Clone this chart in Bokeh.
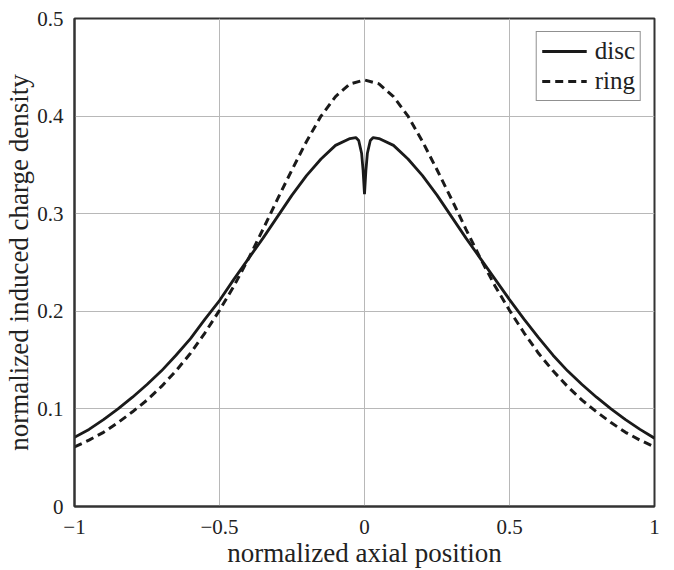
from bokeh.plotting import figure
from bokeh.models import Range1d, FixedTicker, Legend, LegendItem
from bokeh.embed import file_html
from bokeh.resources import INLINE

# ---- data ----
disc_x = [-1.0, -0.95, -0.9, -0.85, -0.8, -0.75, -0.7, -0.65, -0.6, -0.55, -0.5,
          -0.45, -0.4, -0.35, -0.3, -0.25, -0.2, -0.15, -0.1, -0.05, -0.03, -0.02,
          -0.01, -0.005, 0.0, 0.005, 0.01, 0.02, 0.03, 0.05, 0.1, 0.15, 0.2, 0.25,
          0.3, 0.35, 0.4, 0.45, 0.5, 0.55, 0.6, 0.65, 0.7, 0.75, 0.8, 0.85, 0.9,
          0.95, 1.0]
disc_y = [0.071, 0.079, 0.089, 0.100, 0.112, 0.125, 0.139, 0.155, 0.172, 0.192, 0.211,
          0.233, 0.254, 0.275, 0.297, 0.319, 0.339, 0.356, 0.370, 0.377, 0.378, 0.375,
          0.362, 0.345, 0.320, 0.345, 0.362, 0.375, 0.378, 0.377, 0.370, 0.356, 0.339, 0.319,
          0.297, 0.275, 0.254, 0.233, 0.212, 0.192, 0.173, 0.155, 0.139, 0.125, 0.112, 0.100, 0.089,
          0.079, 0.070]

ring_x = [-1.0, -0.95, -0.9, -0.85, -0.8, -0.75, -0.7, -0.65, -0.6, -0.55, -0.5,
          -0.45, -0.4, -0.35, -0.3, -0.25, -0.2, -0.15, -0.1, -0.05, 0.0, 0.05,
          0.1, 0.15, 0.2, 0.25, 0.3, 0.35, 0.4, 0.45, 0.5, 0.55, 0.6, 0.65, 0.7,
          0.75, 0.8, 0.85, 0.9, 0.95, 1.0]
ring_y = [0.061, 0.068, 0.076, 0.086, 0.097, 0.109, 0.123, 0.139, 0.157, 0.178, 0.201,
          0.226, 0.254, 0.284, 0.315, 0.345, 0.374, 0.400, 0.420, 0.433, 0.437, 0.433,
          0.420, 0.400, 0.374, 0.345, 0.315, 0.284, 0.254, 0.226, 0.201, 0.178, 0.157, 0.139, 0.123,
          0.109, 0.097, 0.086, 0.076, 0.068, 0.061]

x_ticks = [-1, -0.5, 0, 0.5, 1]
x_tick_labels = ["\u22121", "\u22120.5", "0", "0.5", "1"]
y_ticks = [0, 0.1, 0.2, 0.3, 0.4, 0.5]
y_tick_labels = ["0", "0.1", "0.2", "0.3", "0.4", "0.5"]

series_names = ["disc", "ring"]
x_title = "normalized axial position"
y_title = "normalized induced charge density"

FONT = "'Liberation Serif', serif"
TXT = "#222222"

p = figure(width=674, height=570, output_backend="svg", toolbar_location=None,
           x_range=Range1d(-1, 1), y_range=Range1d(0, 0.5),
           min_border_left=74, min_border_right=20, min_border_top=18, min_border_bottom=62)

p.background_fill_color = "white"
p.border_fill_color = "white"
p.outline_line_color = "#333333"
p.outline_line_width = 2

for ax in (p.xaxis[0], p.yaxis[0]):
    ax.major_tick_line_color = None
    ax.minor_tick_line_color = None
    ax.axis_line_color = "#333333"
    ax.axis_line_width = 2
    ax.major_label_text_font = FONT
    ax.major_label_text_font_size = "21px"
    ax.major_label_text_color = TXT
    ax.axis_label_text_font = FONT
    ax.axis_label_text_font_size = "27px"
    ax.axis_label_text_font_style = "normal"
    ax.axis_label_text_color = TXT

p.xaxis.ticker = FixedTicker(ticks=x_ticks)
p.xaxis.major_label_overrides = {t: l for t, l in zip(x_ticks, x_tick_labels)}
p.yaxis.ticker = FixedTicker(ticks=y_ticks)
p.yaxis.major_label_overrides = {t: l for t, l in zip(y_ticks, y_tick_labels)}
p.xaxis.axis_label = x_title
p.yaxis.axis_label = y_title
p.xaxis.major_label_standoff = 7
p.xaxis.major_label_text_line_height = 0.8
p.xaxis.axis_label_text_line_height = 0.8
p.xaxis.axis_label_standoff = 1
p.yaxis.major_label_standoff = 5
p.yaxis.axis_label_standoff = 0

p.grid.grid_line_color = "#b8b8b8"
p.grid.grid_line_width = 1

r_disc = p.line(disc_x, disc_y, line_color="#1a1a1a", line_width=2.8)
r_ring = p.line(ring_x, ring_y, line_color="#1a1a1a", line_width=3, line_dash="8 5")

legend = Legend(items=[LegendItem(label=series_names[0], renderers=[r_disc]),
                       LegendItem(label=series_names[1], renderers=[r_ring])],
                location="top_right")
legend.margin = 13
legend.border_line_color = "#222222"
legend.border_line_width = 1.5
legend.label_text_font = FONT
legend.label_text_font_size = "25px"
legend.label_text_color = TXT
legend.glyph_width = 45
legend.label_standoff = 8
legend.padding = 5
legend.spacing = 2
legend.background_fill_alpha = 1
p.add_layout(legend)

open("out.html", "w").write(file_html(p, INLINE))
